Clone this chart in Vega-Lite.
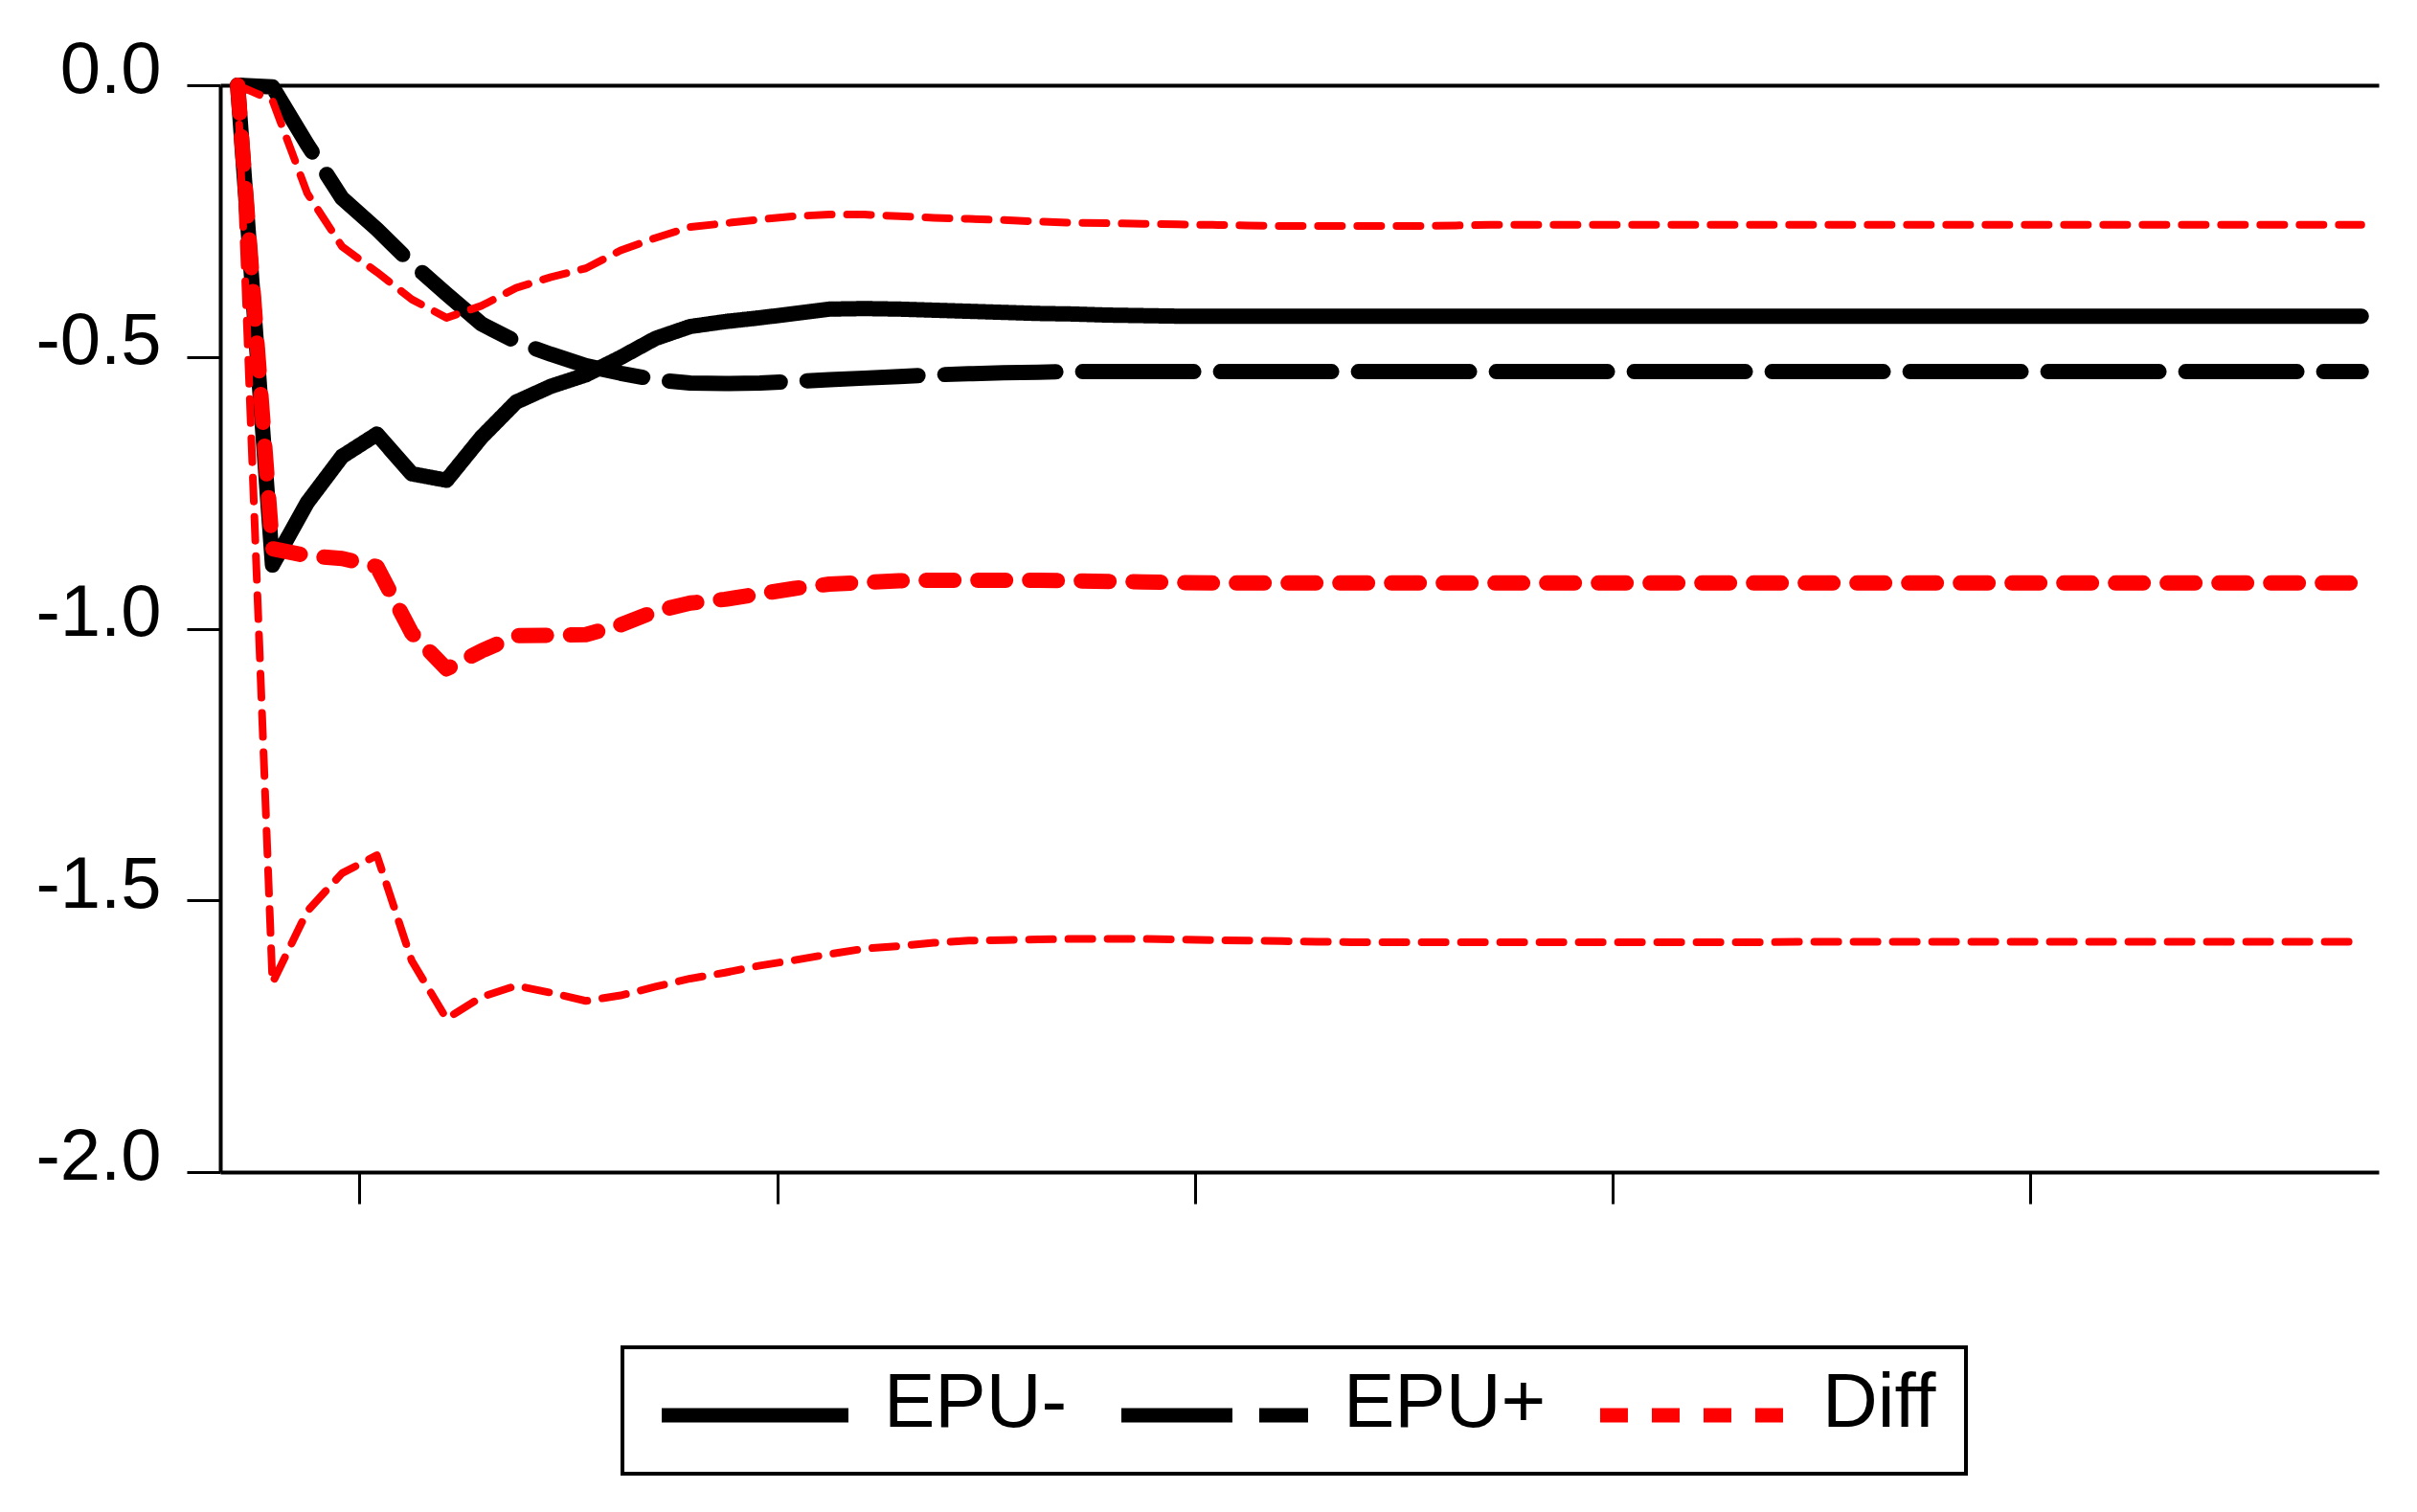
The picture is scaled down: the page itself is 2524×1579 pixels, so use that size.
{
  "$schema": "https://vega.github.io/schema/vega-lite/v6.json",
  "width": 2254,
  "height": 1135,
  "autosize": {"type": "none"},
  "padding": {"left": 230, "top": 89, "right": 40, "bottom": 355},
  "background": "white",
  "config": {"view": {"stroke": null}, "font": "Liberation Sans"},
  "data": {"values": [
    {"t":0,"EPU-":0,"EPU+":0,"Diff":0,"Upper":0,"Lower":0},
    {"t":1,"EPU-":-0.883,"EPU+":-0.003,"Diff":-0.853,"Upper":-0.028,"Lower":-1.652},
    {"t":2,"EPU-":-0.768,"EPU+":-0.109,"Diff":-0.866,"Upper":-0.199,"Lower":-1.520},
    {"t":3,"EPU-":-0.683,"EPU+":-0.208,"Diff":-0.871,"Upper":-0.297,"Lower":-1.450},
    {"t":4,"EPU-":-0.642,"EPU+":-0.265,"Diff":-0.886,"Upper":-0.344,"Lower":-1.417},
    {"t":5,"EPU-":-0.715,"EPU+":-0.328,"Diff":-1.008,"Upper":-0.394,"Lower":-1.611},
    {"t":6,"EPU-":-0.727,"EPU+":-0.384,"Diff":-1.074,"Upper":-0.428,"Lower":-1.718},
    {"t":7,"EPU-":-0.648,"EPU+":-0.439,"Diff":-1.041,"Upper":-0.406,"Lower":-1.678},
    {"t":8,"EPU-":-0.583,"EPU+":-0.472,"Diff":-1.013,"Upper":-0.373,"Lower":-1.657},
    {"t":9,"EPU-":-0.554,"EPU+":-0.495,"Diff":-1.012,"Upper":-0.353,"Lower":-1.670},
    {"t":10,"EPU-":-0.533,"EPU+":-0.516,"Diff":-1.011,"Upper":-0.337,"Lower":-1.685},
    {"t":11,"EPU-":-0.501,"EPU+":-0.530,"Diff":-0.993,"Upper":-0.304,"Lower":-1.675},
    {"t":12,"EPU-":-0.466,"EPU+":-0.542,"Diff":-0.968,"Upper":-0.281,"Lower":-1.659},
    {"t":13,"EPU-":-0.444,"EPU+":-0.548,"Diff":-0.953,"Upper":-0.261,"Lower":-1.644},
    {"t":14,"EPU-":-0.435,"EPU+":-0.549,"Diff":-0.946,"Upper":-0.254,"Lower":-1.633},
    {"t":15,"EPU-":-0.428,"EPU+":-0.548,"Diff":-0.936,"Upper":-0.247,"Lower":-1.620},
    {"t":16,"EPU-":-0.420,"EPU+":-0.545,"Diff":-0.926,"Upper":-0.241,"Lower":-1.610},
    {"t":17,"EPU-":-0.412,"EPU+":-0.542,"Diff":-0.918,"Upper":-0.238,"Lower":-1.599},
    {"t":18,"EPU-":-0.411,"EPU+":-0.539,"Diff":-0.915,"Upper":-0.238,"Lower":-1.589},
    {"t":19,"EPU-":-0.412,"EPU+":-0.536,"Diff":-0.912,"Upper":-0.241,"Lower":-1.584},
    {"t":20,"EPU-":-0.414,"EPU+":-0.533,"Diff":-0.911,"Upper":-0.244,"Lower":-1.578},
    {"t":21,"EPU-":-0.416,"EPU+":-0.531,"Diff":-0.911,"Upper":-0.246,"Lower":-1.574},
    {"t":22,"EPU-":-0.418,"EPU+":-0.529,"Diff":-0.911,"Upper":-0.248,"Lower":-1.573},
    {"t":23,"EPU-":-0.420,"EPU+":-0.528,"Diff":-0.911,"Upper":-0.251,"Lower":-1.572},
    {"t":24,"EPU-":-0.421,"EPU+":-0.527,"Diff":-0.912,"Upper":-0.253,"Lower":-1.571},
    {"t":25,"EPU-":-0.423,"EPU+":-0.527,"Diff":-0.913,"Upper":-0.254,"Lower":-1.571},
    {"t":26,"EPU-":-0.424,"EPU+":-0.527,"Diff":-0.914,"Upper":-0.255,"Lower":-1.571},
    {"t":27,"EPU-":-0.425,"EPU+":-0.527,"Diff":-0.915,"Upper":-0.256,"Lower":-1.572},
    {"t":28,"EPU-":-0.425,"EPU+":-0.527,"Diff":-0.916,"Upper":-0.257,"Lower":-1.573},
    {"t":29,"EPU-":-0.425,"EPU+":-0.527,"Diff":-0.916,"Upper":-0.258,"Lower":-1.574},
    {"t":30,"EPU-":-0.425,"EPU+":-0.527,"Diff":-0.916,"Upper":-0.259,"Lower":-1.575},
    {"t":31,"EPU-":-0.425,"EPU+":-0.527,"Diff":-0.916,"Upper":-0.259,"Lower":-1.576},
    {"t":32,"EPU-":-0.425,"EPU+":-0.527,"Diff":-0.916,"Upper":-0.259,"Lower":-1.577},
    {"t":33,"EPU-":-0.425,"EPU+":-0.527,"Diff":-0.916,"Upper":-0.259,"Lower":-1.577},
    {"t":34,"EPU-":-0.425,"EPU+":-0.527,"Diff":-0.916,"Upper":-0.259,"Lower":-1.577},
    {"t":35,"EPU-":-0.425,"EPU+":-0.527,"Diff":-0.916,"Upper":-0.258,"Lower":-1.577},
    {"t":36,"EPU-":-0.425,"EPU+":-0.527,"Diff":-0.916,"Upper":-0.257,"Lower":-1.577},
    {"t":37,"EPU-":-0.425,"EPU+":-0.527,"Diff":-0.916,"Upper":-0.257,"Lower":-1.577},
    {"t":38,"EPU-":-0.425,"EPU+":-0.527,"Diff":-0.916,"Upper":-0.257,"Lower":-1.577},
    {"t":39,"EPU-":-0.425,"EPU+":-0.527,"Diff":-0.916,"Upper":-0.257,"Lower":-1.577},
    {"t":40,"EPU-":-0.425,"EPU+":-0.527,"Diff":-0.916,"Upper":-0.257,"Lower":-1.577},
    {"t":41,"EPU-":-0.425,"EPU+":-0.527,"Diff":-0.916,"Upper":-0.257,"Lower":-1.577},
    {"t":42,"EPU-":-0.425,"EPU+":-0.527,"Diff":-0.916,"Upper":-0.257,"Lower":-1.577},
    {"t":43,"EPU-":-0.425,"EPU+":-0.527,"Diff":-0.916,"Upper":-0.257,"Lower":-1.577},
    {"t":44,"EPU-":-0.425,"EPU+":-0.527,"Diff":-0.916,"Upper":-0.257,"Lower":-1.577},
    {"t":45,"EPU-":-0.425,"EPU+":-0.527,"Diff":-0.916,"Upper":-0.257,"Lower":-1.576},
    {"t":46,"EPU-":-0.425,"EPU+":-0.527,"Diff":-0.916,"Upper":-0.257,"Lower":-1.576},
    {"t":47,"EPU-":-0.425,"EPU+":-0.527,"Diff":-0.916,"Upper":-0.257,"Lower":-1.576},
    {"t":48,"EPU-":-0.425,"EPU+":-0.527,"Diff":-0.916,"Upper":-0.257,"Lower":-1.576},
    {"t":49,"EPU-":-0.425,"EPU+":-0.527,"Diff":-0.916,"Upper":-0.257,"Lower":-1.576},
    {"t":50,"EPU-":-0.425,"EPU+":-0.527,"Diff":-0.916,"Upper":-0.257,"Lower":-1.576},
    {"t":51,"EPU-":-0.425,"EPU+":-0.527,"Diff":-0.916,"Upper":-0.257,"Lower":-1.576},
    {"t":52,"EPU-":-0.425,"EPU+":-0.527,"Diff":-0.916,"Upper":-0.257,"Lower":-1.576},
    {"t":53,"EPU-":-0.425,"EPU+":-0.527,"Diff":-0.916,"Upper":-0.257,"Lower":-1.576},
    {"t":54,"EPU-":-0.425,"EPU+":-0.527,"Diff":-0.916,"Upper":-0.257,"Lower":-1.576},
    {"t":55,"EPU-":-0.425,"EPU+":-0.527,"Diff":-0.916,"Upper":-0.257,"Lower":-1.576},
    {"t":56,"EPU-":-0.425,"EPU+":-0.527,"Diff":-0.916,"Upper":-0.257,"Lower":-1.576},
    {"t":57,"EPU-":-0.425,"EPU+":-0.527,"Diff":-0.916,"Upper":-0.257,"Lower":-1.576},
    {"t":58,"EPU-":-0.425,"EPU+":-0.527,"Diff":-0.916,"Upper":-0.257,"Lower":-1.576},
    {"t":59,"EPU-":-0.425,"EPU+":-0.527,"Diff":-0.916,"Upper":-0.257,"Lower":-1.576},
    {"t":60,"EPU-":-0.425,"EPU+":-0.527,"Diff":-0.916,"Upper":-0.257,"Lower":-1.576},
    {"t":61,"EPU-":-0.425,"EPU+":-0.527,"Diff":-0.916,"Upper":-0.257,"Lower":-1.576}
  ]},
  "encoding": {
    "x": {
      "field": "t", "type": "quantitative",
      "scale": {"domain": [-0.5, 61.5], "nice": false, "zero": false},
      "axis": {
        "values": [3.5, 15.5, 27.5, 39.5, 51.5],
        "labels": false, "title": null, "grid": false,
        "domainColor": "#000000", "domainWidth": 4,
        "tickColor": "#000000", "tickWidth": 3, "tickSize": 33
      }
    },
    "y": {
      "field": "v", "type": "quantitative",
      "scale": {"domain": [-2, 0], "nice": false, "zero": false},
      "axis": {
        "values": [0, -0.5, -1, -1.5, -2],
        "labelExpr": "datum.value < 0 ? '-' + format(-datum.value, '.1f') : format(datum.value, '.1f')",
        "title": null,
        "grid": true, "gridColor": "#000000", "gridWidth": 4,
        "gridOpacity": {"condition": {"test": "datum.value === 0", "value": 1}, "value": 0},
        "domainColor": "#000000", "domainWidth": 4,
        "tickColor": "#000000", "tickWidth": 3, "tickSize": 35,
        "labelFont": "Liberation Sans", "labelFontSize": 76, "labelColor": "#000000",
        "labelPadding": 27, "labelBaseline": "alphabetic", "labelOffset": 7,
        "labelFlush": false, "labelOverlap": false
      }
    }
  },
  "layer": [
    {
      "transform": [{"fold": ["EPU-", "EPU+", "Diff"], "as": ["series", "v"]}],
      "mark": {"type": "line", "strokeWidth": 16, "strokeCap": "round", "strokeJoin": "round"},
      "encoding": {
        "color": {
          "field": "series", "type": "nominal",
          "scale": {"domain": ["EPU-", "EPU+", "Diff"], "range": ["#000000", "#000000", "#ff0000"]},
          "legend": {
            "orient": "none", "legendX": 420, "legendY": 1318,
            "direction": "horizontal", "columns": 3, "title": null,
            "symbolType": "M-1.54,0H8.46", "symbolSize": 1521, "symbolStrokeWidth": 15,
            "labelFont": "Liberation Sans", "labelFontSize": 80, "labelColor": "#000000",
            "labelOffset": 162, "labelLimit": 1000, "labelBaseline": "alphabetic",
            "columnPadding": 25, "padding": 31,
            "strokeColor": "#000000",
            "encode": {
              "legend": {"update": {"strokeWidth": {"value": 4}}},
              "labels": {"update": {"dy": {"value": 12}}},
              "symbols": {"update": {
                "strokeDash": {"signal": "datum.value === 'EPU+' ? [135,15] : datum.value === 'Diff' ? [48,16] : [1,0]"},
                "strokeCap": {"value": "butt"}
              }}
            }
          }
        },
        "strokeDash": {
          "field": "series", "type": "nominal",
          "scale": {"domain": ["EPU-", "EPU+", "Diff"], "range": [[1, 0], [116, 28], [29, 25]]},
          "legend": null
        }
      }
    },
    {
      "transform": [{"fold": ["Upper", "Lower"], "as": ["band", "v"]}],
      "mark": {"type": "line", "color": "#ff0000", "strokeWidth": 8, "strokeDash": [25, 16], "strokeCap": "round", "strokeJoin": "round"},
      "encoding": {
        "detail": {"field": "band", "type": "nominal"}
      }
    }
  ]
}
